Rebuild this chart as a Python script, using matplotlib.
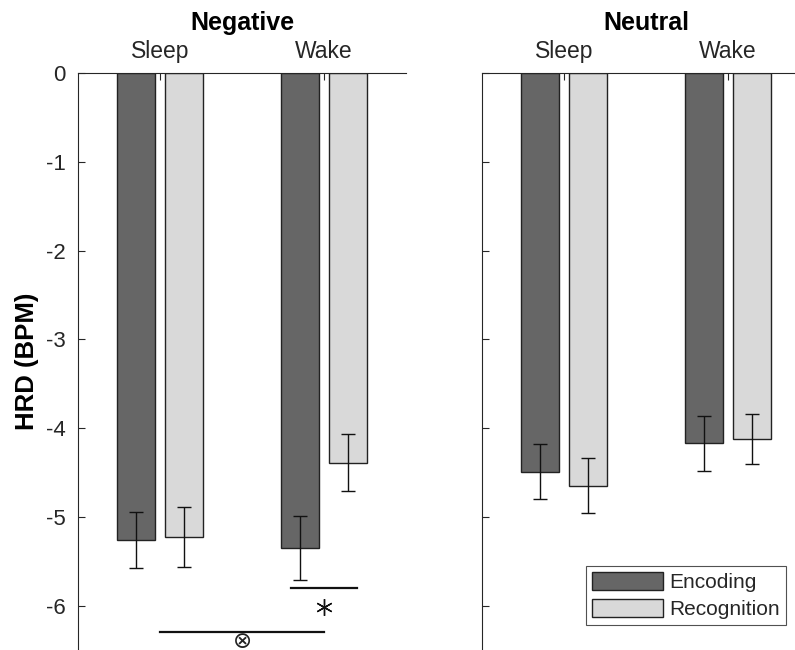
import matplotlib
matplotlib.use("Agg")
import matplotlib.pyplot as plt
import numpy as np

plt.rcParams['font.family'] = ['Liberation Sans', 'DejaVu Sans']
plt.rcParams['axes.unicode_minus'] = False

panels = ["Negative", "Neutral"]
groups = ["Sleep", "Wake"]
series = ["Encoding", "Recognition"]
# means [panel][series][group]
means = {
    "Negative": {"Encoding": [-5.26, -5.35], "Recognition": [-5.23, -4.39]},
    "Neutral": {"Encoding": [-4.49, -4.17], "Recognition": [-4.65, -4.12]},
}
errors = {
    "Negative": {"Encoding": [0.32, 0.36], "Recognition": [0.34, 0.32]},
    "Neutral": {"Encoding": [0.31, 0.31], "Recognition": [0.31, 0.28]},
}
colors = {"Encoding": "#666666", "Recognition": "#d9d9d9"}
yticks = [0, -1, -2, -3, -4, -5, -6]

# significance annotations (Negative panel)
sig_wake_y = -5.80
sig_wake_half = 0.2
sig_inter_y = -6.30

W, H = 795, 650
fig = plt.figure(figsize=(W / 100, H / 100), dpi=100)
axw = 328 / W
axh = (H - 73) / H
axes = [fig.add_axes([78 / W, 0, axw, axh]), fig.add_axes([482 / W, 0, axw, axh])]

x = np.arange(1, len(groups) + 1)
off = 0.146
bw = 0.232
spine_c = "#262626"

for ax, panel in zip(axes, panels):
    for i, s in enumerate(series):
        xs = x + (-off if i == 0 else off)
        ax.bar(xs, means[panel][s], width=bw, color=colors[s], edgecolor="#222222",
               linewidth=1.0, label=s, zorder=2)
        ax.errorbar(xs, means[panel][s], yerr=errors[panel][s], fmt="none",
                    ecolor="#111111", elinewidth=1.0, capsize=5, capthick=1.0, zorder=3)
    ax.set_xlim(0.5, 2.5)
    ax.set_ylim(-6.5, 0)
    ax.set_yticks(yticks)
    ax.xaxis.tick_top()
    ax.set_xticks(x)
    ax.set_xticklabels(groups, fontsize=16.5, color="#262626")
    ax.tick_params(axis="x", direction="in", length=5, width=0.8, color=spine_c, pad=7)
    ax.tick_params(axis="y", direction="in", length=5, width=0.8, color=spine_c,
                   labelsize=16, labelcolor="#262626", pad=9)
    for sp in ["right", "bottom"]:
        ax.spines[sp].set_visible(False)
    for sp in ["left", "top"]:
        ax.spines[sp].set_color(spine_c)
        ax.spines[sp].set_linewidth(0.8)
    ax.set_title(panel, fontsize=18, fontweight="bold", pad=31)

axes[1].set_yticklabels([])
axes[0].set_ylabel("HRD (BPM)", fontsize=18.5, fontweight="bold", labelpad=5)

ax = axes[0]
ax.plot([x[1] - sig_wake_half, x[1] + sig_wake_half], [sig_wake_y, sig_wake_y],
        color="#111111", lw=1.6, clip_on=False)
ax.plot([x[1]], [sig_wake_y - 0.21], marker=(6, 2, 0), markersize=12, color="#111111",
        mew=1.0, clip_on=False)
ax.plot([x[0], x[1]], [sig_inter_y, sig_inter_y], color="#111111", lw=1.6, clip_on=False)
ax.text((x[0] + x[1]) / 2, sig_inter_y - 0.105, "\u2297", ha="center", va="center",
        fontsize=16.5, color="#222222", family=["DejaVu Sans"], clip_on=False)

leg = axes[1].legend(loc="lower right", bbox_to_anchor=(786 / W, 1 - 625 / H),
                     bbox_transform=fig.transFigure, fontsize=15,
                     handlelength=3.4, handleheight=0.95, handletextpad=0.3,
                     borderpad=0.3, labelspacing=0.3, fancybox=False, frameon=True,
                     borderaxespad=0)
leg.get_frame().set_edgecolor("#262626")
leg.get_frame().set_linewidth(0.8)
for t in leg.get_texts():
    t.set_color("#262626")

fig.savefig("out.png", dpi=100)
